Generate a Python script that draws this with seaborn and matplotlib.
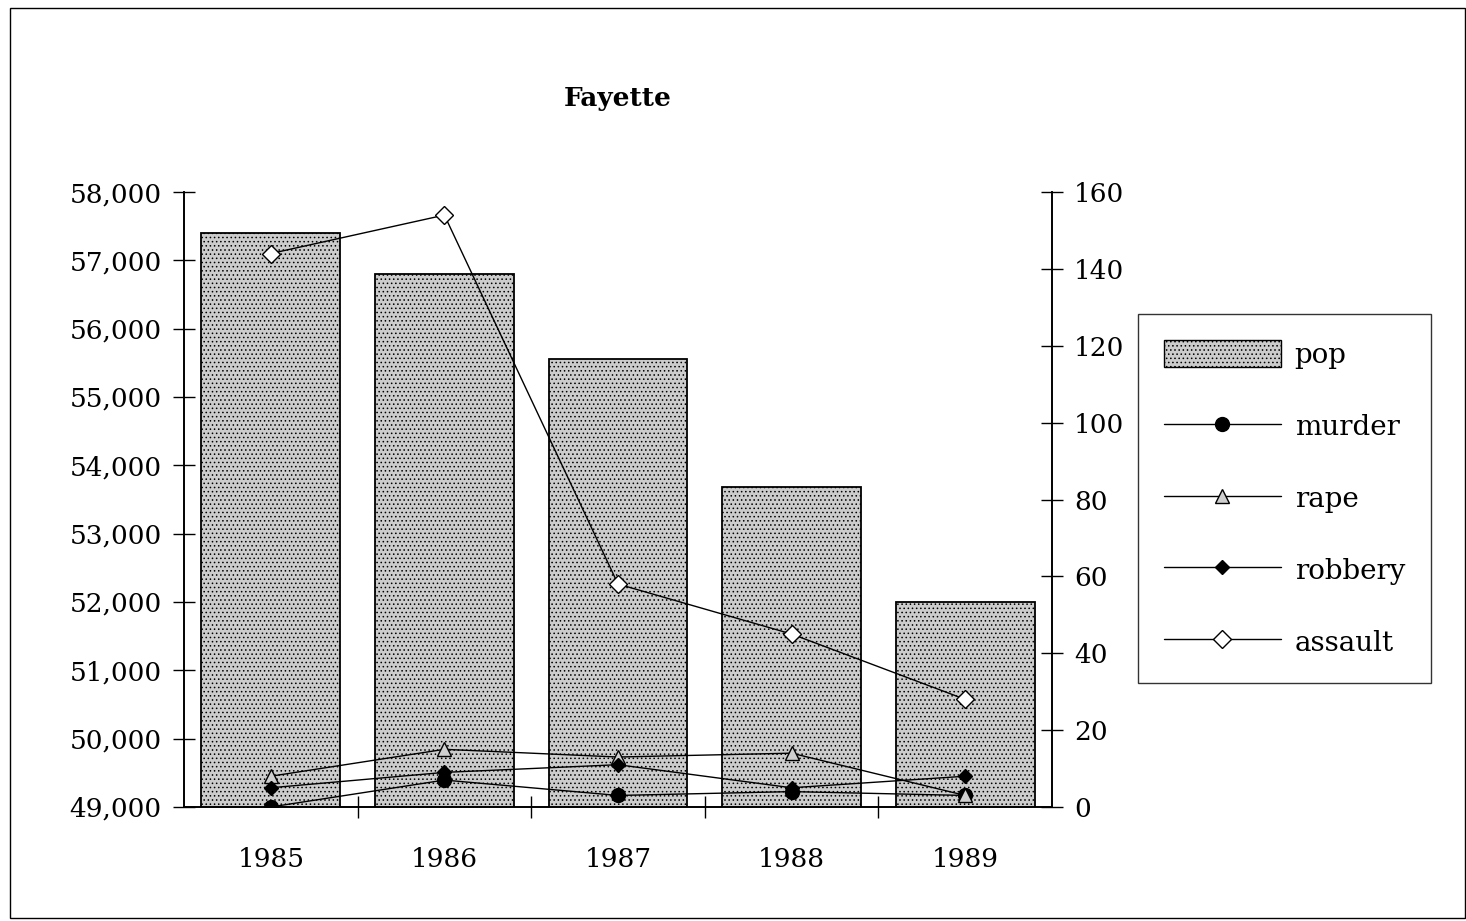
import numpy as np
import pandas as pd
import seaborn as sns
import matplotlib.pyplot as plt
from matplotlib.patches import Patch, Rectangle
from matplotlib.ticker import FuncFormatter, FixedLocator

years = ["1985", "1986", "1987", "1988", "1989"]
pop = [57400, 56800, 55550, 53680, 52000]
murder = [0, 7, 3, 4, 3]
rape = [8, 15, 13, 14, 3]
robbery = [5, 9, 11, 5, 8]
assault = [144, 154, 58, 45, 28]

sns.set_theme(style="white")
plt.rcParams["font.family"] = ["DejaVu Serif"]
plt.rcParams["text.color"] = "black"
plt.rcParams["hatch.color"] = "#4a4a4a"
plt.rcParams["hatch.linewidth"] = 0.6

fig = plt.figure(figsize=(14.66, 9.21), dpi=100)
ax = fig.add_axes([0.1255, 0.1238, 0.5921, 0.6677])

bar_color = "#cccccc"
sns.barplot(x=years, y=pop, ax=ax, color=bar_color, saturation=1,
            width=0.8, edgecolor="black", linewidth=1.3)
for p in ax.patches:
    p.set_hatch("....")

ax.set_ylim(49000, 58000)
ax.set_xlim(-0.5, 4.5)
ax.yaxis.set_major_formatter(FuncFormatter(lambda v, _: f"{int(v):,}"))
ax.set_yticks(np.arange(49000, 58001, 1000))
ax.tick_params(axis="y", direction="inout", length=16, width=1, pad=8,
               labelsize=19, colors="black", left=True)
ax.tick_params(axis="x", which="major", length=0, pad=29, labelsize=19,
               colors="black")
ax.xaxis.set_minor_locator(FixedLocator([0.5, 1.5, 2.5, 3.5]))
ax.tick_params(axis="x", which="minor", direction="inout", length=16,
               width=1, bottom=True, colors="black")
ax.set_xlabel("")
ax.set_ylabel("")
ax.spines["top"].set_visible(False)
for s in ["left", "right", "bottom"]:
    ax.spines[s].set_color("black")
    ax.spines[s].set_linewidth(1.2)

ax2 = ax.twinx()
pos = np.arange(len(years))
crime = pd.DataFrame({"pos": pos, "murder": murder, "rape": rape,
                      "robbery": robbery, "assault": assault})
styles = {
    "murder": dict(marker="o", markersize=10, markerfacecolor="black"),
    "rape": dict(marker="^", markersize=10, markerfacecolor="#cfcfcf"),
    "robbery": dict(marker="D", markersize=7, markerfacecolor="black"),
    "assault": dict(marker="D", markersize=9, markerfacecolor="white"),
}
for name, st in styles.items():
    sns.lineplot(data=crime, x="pos", y=name, ax=ax2, color="black",
                 linewidth=1.0, markeredgecolor="black", markeredgewidth=1.0,
                 label=name, legend=False, **st)

ax2.set_ylim(0, 160)
ax2.set_xlim(-0.5, 4.5)
ax2.set_yticks(np.arange(0, 161, 20))
ax2.tick_params(axis="y", direction="inout", length=16, width=1, pad=8,
                labelsize=19, colors="black", right=True)
ax2.set_ylabel("")
ax2.set_xlabel("")
ax2.spines["top"].set_visible(False)
for s in ["left", "right", "bottom"]:
    ax2.spines[s].set_color("black")
    ax2.spines[s].set_linewidth(1.2)

ax.set_title("Fayette", fontsize=19, fontweight="bold", pad=62,
             color="black")

handles = [Patch(facecolor=bar_color, edgecolor="black", hatch="....",
                 linewidth=1.0)] + ax2.get_lines()[:4]
labels = ["pop", "murder", "rape", "robbery", "assault"]
leg = fig.legend(handles, labels, loc="upper left",
                 bbox_to_anchor=(0.776, 0.659), fontsize=20,
                 frameon=True, fancybox=False, edgecolor="black",
                 handlelength=4.2, handleheight=1.1, labelspacing=1.55,
                 borderpad=0.95, handletextpad=0.5, borderaxespad=0)
leg.get_frame().set_linewidth(1.0)
for t in leg.get_texts():
    t.set_color("black")

fig.add_artist(Rectangle((0.007, 0.003), 0.992, 0.988, transform=fig.transFigure,
                         fill=False, edgecolor="black", linewidth=1.0))

fig.savefig("out.png", dpi=100)
